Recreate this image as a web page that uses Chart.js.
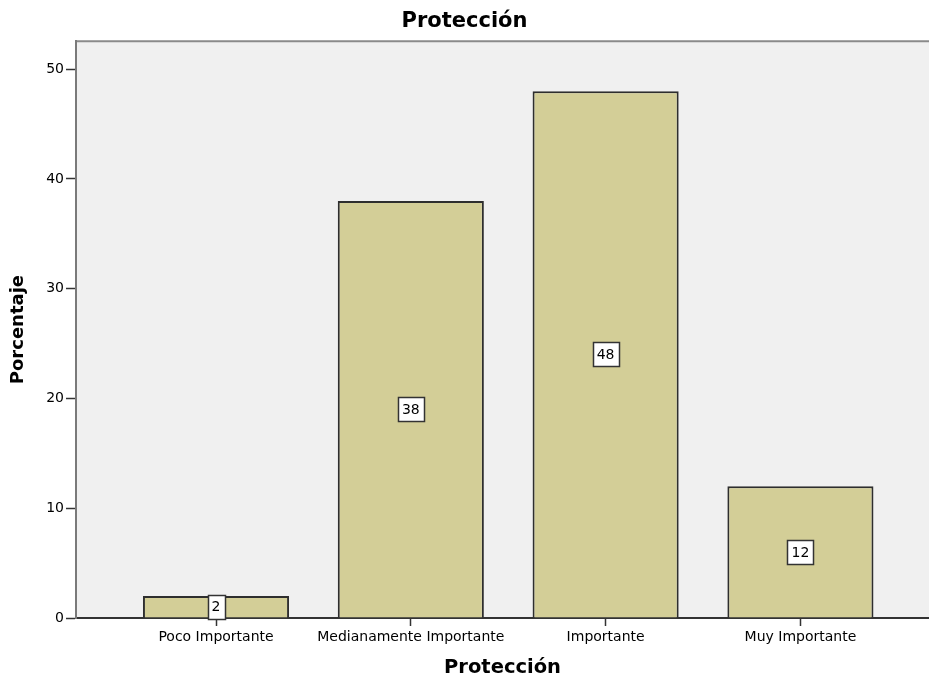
<!DOCTYPE html>
<html>
<head>
<meta charset="utf-8">
<script src="https://cdn.jsdelivr.net/npm/chart.js@4/dist/chart.umd.min.js"></script>
<style>
  html, body { margin: 0; padding: 0; background: #fff; }
  #wrap { width: 929px; height: 680px; position: relative; }
</style>
</head>
<body>
<div id="wrap"><canvas id="myChart"></canvas></div>
<script>
const categories = ["Poco Importante", "Medianamente Importante", "Importante", "Muy Importante"];
const percentages = [2, 38, 48, 12];
const yTicks = [0, 10, 20, 30, 40, 50];

// plot background + top frame line, like the SPSS output
const plotFrame = {
  id: 'plotFrame',
  beforeDraw(chart) {
    const { ctx, chartArea: a } = chart;
    ctx.save();
    ctx.fillStyle = '#F0F0F0';
    ctx.fillRect(a.left, a.top, a.right - a.left, a.bottom - a.top);
    ctx.strokeStyle = '#8a8a8a';
    ctx.lineWidth = 2;
    ctx.beginPath();
    ctx.moveTo(a.left, a.top);
    ctx.lineTo(a.right, a.top);
    ctx.stroke();
    ctx.restore();
  }
};

// white value boxes in the middle of each bar
const valueBoxes = {
  id: 'valueBoxes',
  afterDatasetsDraw(chart) {
    const { ctx } = chart;
    const meta = chart.getDatasetMeta(0);
    ctx.save();
    ctx.font = '14px "DejaVu Sans"';
    ctx.textAlign = 'center';
    ctx.textBaseline = 'middle';
    meta.data.forEach((bar, i) => {
      const p = bar.getProps(['x', 'y', 'base'], true);
      const cy = (p.y + p.base) / 2;
      const txt = String(percentages[i]);
      const w = Math.round(ctx.measureText(txt).width) + 8;
      const h = 24;
      const x0 = Math.round(p.x - w / 2) + 0.5;
      const y0 = Math.round(cy - h / 2) + 0.5;
      ctx.fillStyle = '#ffffff';
      ctx.fillRect(x0, y0, w, h);
      ctx.strokeStyle = '#333';
      ctx.lineWidth = 1.5;
      ctx.strokeRect(x0, y0, w, h);
      ctx.fillStyle = '#000';
      ctx.fillText(txt, p.x, cy + 1);
    });
    ctx.restore();
  }
};

Chart.defaults.font.family = '"DejaVu Sans"';
Chart.defaults.color = '#000';

new Chart("myChart", {
  type: "bar",
  data: {
    datasets: [{
      data: categories.map((c, i) => ({ x: i, y: percentages[i] })),
      backgroundColor: "#D3CE97",
      borderColor: "#2e2e2e",
      borderWidth: 2,
      categoryPercentage: 1,
      barPercentage: 0.75
    }]
  },
  options: {
    responsive: true,
    maintainAspectRatio: false,
    animation: false,
    layout: { padding: 0 },
    plugins: {
      legend: { display: false },
      tooltip: { enabled: false },
      title: {
        display: true,
        text: "Protección",
        color: "#000",
        font: { size: 21, weight: "bold" },
        padding: { top: 9, bottom: 7 }
      }
    },
    scales: {
      x: {
        type: "linear",
        offset: false,
        min: -0.7187,
        max: 3.66,
        afterFit(scale) { scale.height = 62; },
        afterBuildTicks(scale) { scale.ticks = categories.map((c, i) => ({ value: i })); },
        ticks: {
          callback: (v) => categories[v],
          font: { size: 14 },
          padding: 3,
          maxRotation: 0,
          autoSkip: false
        },
        grid: { offset: false, drawOnChartArea: false, tickLength: 8, color: "#333", tickWidth: 1.5 },
        border: { display: true, color: "#333", width: 2 },
        title: {
          display: true,
          text: "Protección",
          color: "#000",
          font: { size: 19.5, weight: "bold" },
          padding: { top: 0, bottom: 0 }
        }
      },
      y: {
        min: 0,
        max: 52.55,
        afterFit(scale) { scale.width = 76; },
        afterBuildTicks(scale) { scale.ticks = yTicks.map(v => ({ value: v })); },
        ticks: { font: { size: 14 }, padding: 2 },
        grid: { drawOnChartArea: false, tickLength: 10, color: "#333", tickWidth: 1.5 },
        border: { display: true, color: "#7a7a7a", width: 2 },
        title: {
          display: true,
          text: "Porcentaje",
          color: "#000",
          font: { size: 18, weight: "bold" },
          padding: { top: 8, bottom: 0 }
        }
      }
    }
  },
  plugins: [plotFrame, valueBoxes]
});
</script>
</body>
</html>
